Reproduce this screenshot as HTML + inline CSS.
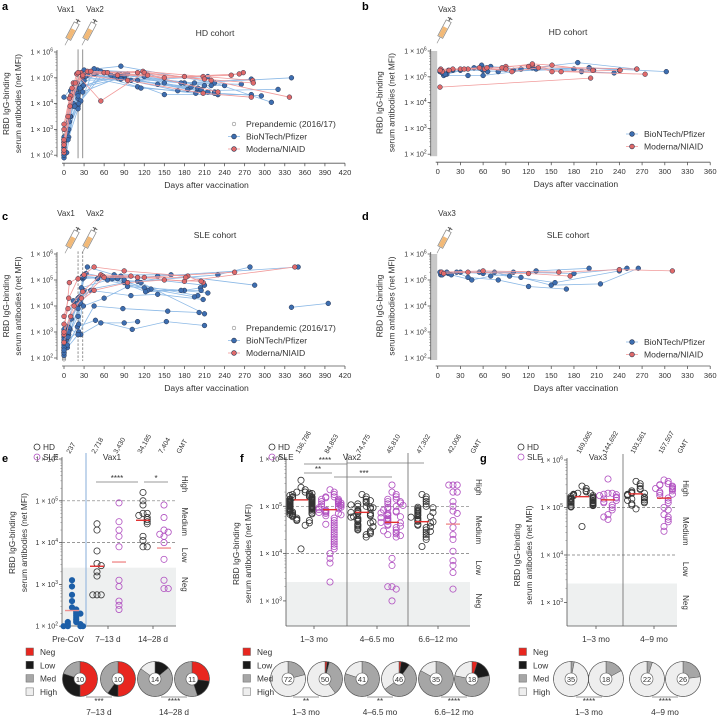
<!DOCTYPE html>
<html><head><meta charset="utf-8">
<style>
html,body{margin:0;padding:0;background:#fff;}
svg{display:block;font-family:"Liberation Sans",Arial,sans-serif;}
</style></head>
<body>
<svg id="fig" width="720" height="717" viewBox="0 0 720 717" xmlns="http://www.w3.org/2000/svg"></svg>
<script>
// ---------- DATA ----------
const aBNT=[
[[0,2.2],[21,4.2],[28,5.2],[85,5.1],[195,4.8],[340,5.0]],
[[0,2.5],[7,3.3],[22,4.6],[49,5.2],[110,4.9],[215,5.05]],
[[0,2.0],[5,2.9],[21,3.9],[30,5.3],[85,5.45],[225,4.8],[310,4.05]],
[[0,4.25],[28,5.15],[90,5.0],[200,4.5],[320,4.55]],
[[0,2.7],[14,3.9],[28,5.0],[50,5.3],[120,5.2],[230,4.35]],
[[0,2.6],[10,3.5],[25,4.1],[60,5.2],[150,4.35],[280,4.35]],
[[0,2.1],[7,2.7],[21,4.4],[35,5.1],[80,5.0],[170,4.5],[295,4.3]],
[[0,2.3],[12,4.4],[30,5.1],[75,5.05],[220,4.7],[240,4.7]],
[[0,2.4],[20,4.8],[45,5.15],[110,4.65],[197,4.4]],
[[0,1.9],[8,3.3],[19,4.4],[27,4.65],[90,5.0],[185,4.55]],
[[0,2.0],[6,2.6],[21,3.8],[45,5.35],[120,5.05],[210,4.7],[225,4.45]],
[[0,2.2],[14,4.0],[28,4.45],[90,5.1],[180,4.8],[265,4.75]],
[[0,2.1],[7,3.0],[22,4.0],[55,5.25],[85,5.0],[175,4.8],[280,4.95]],
[[0,2.5],[15,4.5],[28,5.0],[100,4.9],[200,4.6]],
[[0,2.3],[21,4.3],[29,4.7],[95,5.15],[150,4.8],[230,4.35]],
[[0,2.6],[10,4.5],[30,4.9],[85,4.95],[190,4.65],[215,4.45]],
[[0,2.4],[9,3.5],[24,4.6],[70,5.1],[140,4.75],[205,4.55]],
[[4,2.1],[16,3.9],[32,5.05],[115,4.6],[225,4.4]]];
const aMOD=[
[[0,2.5],[10,4.3],[28,5.05],[60,5.2],[118,5.25],[208,5.05],[282,4.9]],
[[0,3.2],[8,4.2],[19,5.15],[55,4.1],[120,5.2],[210,4.95],[283,4.8]],
[[0,2.1],[6,3.5],[25,5.2],[65,5.2],[150,5.0],[250,5.1],[268,5.2]],
[[0,2.4],[14,4.8],[35,5.25],[110,5.2],[220,4.9],[337,4.25]],
[[0,2.6],[9,3.9],[21,5.2],[80,5.1],[180,5.05],[262,5.15]],
[[0,3.0],[12,4.6],[28,5.1],[95,4.9],[208,4.4],[280,4.25]],
[[0,2.2],[17,4.8],[40,5.25],[125,5.1],[230,4.45]]];
const prepandemic=[1.95,2.0,2.05,2.1,2.15,2.2,2.3,2.4,2.5,2.6,2.75,2.9,3.0];
const bBNT=[
[[5,5.25],[8,5.05],[40,5.05],[60,5.05],[130,5.3],[200,5.35],[302,5.2]],
[[3,5.2],[12,5.1],[58,5.45],[70,5.4],[110,5.3],[185,5.55],[263,5.3]],
[[6,5.15],[14,5.25],[48,5.35],[66,5.2],[125,5.35],[190,5.2],[233,5.15]],
[[10,5.1],[30,5.25],[60,5.25],[80,5.2],[180,5.3],[206,5.25]],
[[4,5.2],[20,5.25],[58,5.3],[100,5.25],[200,5.35],[240,5.25]]];
const bMOD=[
[[3,4.6],[202,4.95]],
[[5,5.25],[30,5.3],[62,5.3],[90,5.4],[125,5.45],[163,5.2],[274,5.1]],
[[4,5.3],[40,5.3],[65,5.35],[85,5.35],[125,5.5],[151,5.45],[205,5.25]],
[[6,5.2],[20,5.3],[55,5.35],[98,5.2],[133,5.35],[151,5.2],[241,5.25]],
[[3,5.25],[15,5.25],[35,5.3],[90,5.3],[120,5.4],[263,5.3]]];
const cBNT=[
[[0,2.8],[5,3.1],[20,4.0],[28,5.05],[85,5.15],[210,4.8]],
[[0,2.4],[7,2.9],[21,3.6],[28,5.1],[110,4.95],[230,5.2],[278,5.5]],
[[0,2.2],[4,2.7],[22,3.0],[30,4.6],[90,4.9],[200,4.4]],
[[0,3.0],[6,3.2],[20,4.1],[35,5.5],[75,5.2],[160,5.2],[285,4.8]],
[[0,2.6],[9,3.1],[25,2.9],[55,3.35],[90,3.35],[110,3.4]],
[[0,2.3],[5,2.4],[21,2.9],[45,4.0],[88,3.9],[155,3.8],[202,3.75]],
[[0,2.9],[8,3.15],[23,4.35],[40,4.6],[100,4.4],[140,4.45],[208,4.25]],
[[0,2.5],[6,2.8],[25,4.1],[50,5.05],[120,4.7],[180,4.6],[204,4.7]],
[[0,2.1],[5,2.5],[20,3.2],[47,3.45],[102,3.1],[153,3.4],[210,3.25]],
[[0,2.7],[14,4.2],[29,4.0],[60,4.3],[95,4.75],[130,4.65],[195,4.35]],
[[0,3.1],[11,3.5],[26,4.7],[65,5.0],[115,4.9],[210,3.7]],
[[0,2.4],[21,3.9],[30,5.1],[80,5.05],[140,5.15],[350,5.5]],
[[340,3.95],[395,4.1]],
[[0,2.2],[22,3.3],[28,5.15],[90,5.0],[125,4.6],[205,4.6]],
[[0,2.3],[7,3.0],[21,4.3],[33,5.25],[72,5.05],[122,4.55],[175,4.6],[215,4.5]]];
const cMOD=[
[[0,3.6],[7,4.3],[21,5.05],[45,5.5],[90,5.35],[185,5.15],[208,4.9]],
[[0,3.3],[6,3.9],[28,4.55],[55,5.2],[100,5.15],[180,4.95],[345,5.5]],
[[0,2.9],[8,4.9],[30,5.2],[58,5.15],[120,5.1],[255,5.3]],
[[0,3.0],[15,4.0],[45,4.6],[95,4.9],[150,5.0],[205,4.95]],
[[0,2.6],[10,3.6],[26,4.3],[60,5.1],[110,5.1],[182,5.1]]];
const dBNT=[
[[5,5.3],[14,5.25],[55,5.3],[100,5.3],[180,5.25],[250,5.45]],
[[4,5.2],[25,5.3],[40,5.1],[80,5.0],[120,4.75],[170,4.65]],
[[8,5.25],[30,5.3],[60,5.25],[110,5.1],[150,4.8],[215,4.85],[265,5.45]],
[[6,5.2],[18,5.2],[45,5.0],[70,5.15],[130,5.35],[200,5.45]],
[[3,5.3],[12,5.3],[75,5.3],[95,5.15],[155,4.9],[240,5.35]]];
const dMOD=[
[[5,5.3],[60,5.35],[160,5.3],[240,5.4],[310,5.35]],
[[8,5.25],[40,5.3],[120,5.25],[175,5.15]]];

// dot plots (log10 values)
const ePre=[3.1,2.95,2.75,2.6,2.45,2.4,2.35,2.3,2.25,2.2,2.15,2.1,2.1,2.05,2.05,2.0,2.0,2.0,2.0,2.3];
const eHD1=[4.45,4.3,3.8,3.5,3.45,3.2,3.3,2.75,2.75,2.75];
const eSLE1=[4.95,4.5,4.3,4.15,3.9,3.1,2.95,2.5,2.6,2.4];
const eHD2=[5.2,5.0,4.9,4.7,4.7,4.65,4.6,4.55,4.5,4.45,4.15,4.05,3.9,3.9];
const eSLE2=[4.9,4.6,4.3,4.25,4.15,4.0,3.6,3.1,2.9,2.9,4.2];
const eGMT=[237,2718,3430,34185,7404];
const eGMTlabels=["237","2,718","3,430","34,185","7,404"];
const fHD1=[5.55,5.4,5.35,5.3,5.3,5.28,5.25,5.25,5.22,5.2,5.2,5.2,5.18,5.18,5.15,5.15,5.15,5.13,5.12,5.12,5.1,5.1,5.1,5.08,5.08,5.06,5.05,5.05,5.04,5.03,5.02,5.02,5.0,5.0,5.0,4.98,4.98,4.96,4.95,4.95,4.93,4.92,4.9,4.9,4.88,4.86,4.85,4.84,4.82,4.8,4.78,4.75,4.72,4.7,4.7,5.27,5.23,5.17,5.14,5.11,5.09,5.07,5.01,4.99,4.97,4.94,4.91,4.87,4.83,4.65,4.6,4.1];
const fSLE1=[5.35,5.3,5.25,5.2,5.2,5.18,5.15,5.15,5.12,5.1,5.1,5.08,5.05,5.05,5.03,5.0,5.0,4.98,4.95,4.92,4.9,4.88,4.85,4.85,4.8,4.75,4.7,4.65,4.6,4.55,4.5,4.45,4.4,4.35,4.3,4.25,4.2,4.15,4.1,4.0,3.9,3.8,3.4,5.07,5.02,4.97,4.93,4.87,4.82,4.62];
const fHD2=[5.25,5.2,5.15,5.1,5.08,5.05,5.0,5.0,4.98,4.95,4.92,4.9,4.88,4.85,4.85,4.82,4.8,4.78,4.75,4.72,4.7,4.68,4.65,4.62,4.6,4.58,4.55,4.52,4.5,4.48,4.45,4.4,4.35,5.12,5.03,4.97,4.87,4.77,4.67,4.57,4.42];
const fSLE2=[5.45,5.3,5.25,5.2,5.15,5.15,5.1,5.1,5.05,5.0,4.98,4.95,4.9,4.88,4.85,4.82,4.8,4.78,4.75,4.72,4.7,4.68,4.65,4.62,4.6,4.55,4.5,4.45,4.42,4.4,4.35,3.9,3.75,3.3,3.25,3.3,3.0,5.07,5.02,4.92,4.86,4.76,4.66,4.58,4.48,4.38];
const fHD3=[5.25,5.2,5.15,5.1,5.05,5.0,4.98,4.95,4.92,4.9,4.88,4.85,4.82,4.8,4.78,4.75,4.72,4.7,4.68,4.65,4.62,4.6,4.55,4.5,4.45,4.4,4.35,4.3,4.15,4.97,4.87,4.77,4.67,4.57,4.47];
const fSLE3=[5.45,5.45,5.45,5.3,5.3,5.1,5.0,4.9,4.85,4.7,4.55,4.4,4.3,4.05,3.85,3.75,3.6,3.25];
const fGMT=[136786,84853,74475,45810,47302,42006];
const fGMTlabels=["136,786","84,853","74,475","45,810","47,302","42,006"];
const gHD1=[5.45,5.4,5.35,5.33,5.3,5.3,5.28,5.27,5.25,5.25,5.23,5.22,5.2,5.2,5.19,5.18,5.17,5.16,5.15,5.14,5.13,5.12,5.11,5.1,5.1,5.09,5.08,5.07,5.06,5.05,5.04,5.03,5.02,5.01,4.6];
const gSLE1=[5.6,5.3,5.3,5.28,5.27,5.25,5.22,5.2,5.18,5.15,5.12,5.1,5.05,5.0,4.95,4.85,4.75,4.8];
const gHD2=[5.55,5.5,5.45,5.4,5.38,5.35,5.32,5.3,5.3,5.28,5.27,5.25,5.22,5.2,5.18,5.16,5.15,5.12,5.1,5.08,5.05,4.97];
const gSLE2=[5.58,5.55,5.5,5.48,5.47,5.45,5.43,5.4,5.4,5.38,5.35,5.33,5.3,5.28,5.25,5.2,5.15,5.1,5.0,4.95,4.85,4.8,4.75,4.7,4.6,4.5];
const gGMT=[169065,144692,193561,157507];
const gGMTlabels=["169,065","144,692","193,561","157,507"];

// pies: fractions [neg, low, med, high]
const ePies=[[0.5,0.3,0.2,0],[0.5,0.1,0.4,0],[0,0.14,0.71,0.15],[0.27,0.18,0.55,0]];
const eN=[10,10,14,11];
const fPies=[[0,0,0.21,0.79],[0.02,0.02,0.36,0.6],[0,0,0.8,0.2],[0.02,0.08,0.55,0.35],[0,0,0.83,0.17],[0.05,0.17,0.56,0.22]];
const fN=[72,50,41,46,35,18];
const gPies=[[0,0,0.03,0.97],[0,0,0.17,0.83],[0,0,0.05,0.95],[0,0,0.23,0.77]];
const gN=[35,18,22,26];

// ---------- HELPERS ----------
const NS='http://www.w3.org/2000/svg';
const svg=document.getElementById('fig');
function mk(tag,attrs,parent){const e=document.createElementNS(NS,tag);for(const k in attrs)e.setAttribute(k,attrs[k]);(parent||svg).appendChild(e);return e;}
function txt(s,attrs,parent){const t=mk('text',attrs,parent);t.textContent=s;return t;}
function grp(name){const g=mk('g',{});return g;}
function tickLabel(g,x,y,exp){
  const t=mk('text',{x:x,y:y+2.5,'font-size':7,'text-anchor':'end',fill:'#333'},g);
  
  
  t.appendChild(document.createTextNode('1 × 10'));
  const s=mk('tspan',{dy:-3,'font-size':5},t);s.textContent=exp;
}
function logAxis(g,xAxis,ytop,ybot,yOf,minExp,maxExp){
  const ax=mk('line',{x1:xAxis,x2:xAxis,y1:ytop,y2:ybot,stroke:'#555','stroke-width':0.8},g);
  
  for(let e=minExp;e<=maxExp;e++){
    const y=yOf(e);
    mk('line',{x1:xAxis-3,x2:xAxis,y1:y,y2:y,stroke:'#555','stroke-width':0.8},g);
    tickLabel(g,xAxis-4,y,e);
    if(e<maxExp)for(let m=2;m<10;m++){const ym=yOf(e+Math.log10(m));mk('line',{x1:xAxis-1.6,x2:xAxis,y1:ym,y2:ym,stroke:'#777','stroke-width':0.5},g);}
  }
}
function yTitle(g,x,y,lines){
  lines.forEach((s,i)=>{const t=txt(s,{x:0,y:0,'font-size':8.3,'text-anchor':'middle',fill:'#333',transform:`translate(${x+i*12},${y}) rotate(-90)`},g);
  });
}
function syringe(x,y,label,lx,ly){
  const g=grp('syringe-'+label.toLowerCase());
  const l=txt(label,{x:lx,y:ly,'font-size':8,'text-anchor':'middle',fill:'#333'},g);
  
  const s=mk('g',{transform:`translate(${x},${y}) rotate(28)`},g);
  mk('line',{x1:0,y1:-14,x2:0,y2:-10,stroke:'#555','stroke-width':1},s);
  mk('line',{x1:-2.5,y1:-13,x2:2.5,y2:-13,stroke:'#555','stroke-width':1},s);
  mk('rect',{x:-2.8,y:-10,width:5.6,height:18,fill:'#fff',stroke:'#888','stroke-width':0.7},s);
  mk('rect',{x:-2.3,y:-3,width:4.6,height:10.5,fill:'#f2b977'},s);
  mk('line',{x1:0,y1:8,x2:0,y2:15,stroke:'#888','stroke-width':0.6},s);
}
const BLUE='#3d6eb0',BLUEL='#8cb9e6',RED='#e06a6a',REDL='#f19a9a';
function series(g,data,xOf,yOf,fill,lc,name){
  data.forEach(subj=>{
    const pts=subj.map(p=>xOf(p[0]).toFixed(1)+','+yOf(p[1]).toFixed(1)).join(' ');
    const pl=mk('polyline',{points:pts,fill:'none',stroke:lc,'stroke-width':0.8},g);
    
  });
  data.forEach(subj=>subj.forEach(p=>{
    const c=mk('circle',{cx:xOf(p[0]),cy:yOf(p[1]),r:2.4,fill:fill,stroke:'#2a3550','stroke-width':0.5},g);
    
  }));
}
function legendLine(g,x,y,items){
  items.forEach((it,i)=>{
    const yy=y+i*12.5;
    if(it.line)mk('line',{x1:x-6,x2:x+6,y1:yy,y2:yy,stroke:it.line,'stroke-width':0.8},g);
    const c=mk('circle',{cx:x,cy:yy,r:it.r||2.4,fill:it.fill,stroke:it.stroke,'stroke-width':0.6},g);
    
    const t=txt(it.label,{x:x+12,y:yy+3,'font-size':8.6,fill:'#333'},g);
    
  });
}
function panelLetter(s,x,y){const t=txt(s,{x:x,y:y,'font-size':11,'font-weight':'bold',fill:'#000'});}

function linePanel(o){
  const g=grp(o.name);
  const xOf=d=>o.x0+d*o.ppd, yOf=l=>o.y6+(6-l)*o.dec;
  const yb=yOf(2);
  if(o.band){const b=mk('rect',{x:o.x0-7,y:yOf(6),width:6.5,height:yb-yOf(6)+2,fill:'#c8c8c8'},g);}
  logAxis(g,o.x0-7,yOf(6)-2,yb+2,yOf,2,6);
  const xa=mk('line',{x1:o.x0-2,x2:xOf(o.maxDay),y1:yb+8,y2:yb+8,stroke:'#555','stroke-width':0.8},g);
  
  for(let d=0;d<=o.maxDay;d+=30){
    mk('line',{x1:xOf(d),x2:xOf(d),y1:yb+8,y2:yb+11,stroke:'#555','stroke-width':0.8},g);
    const t=txt(String(d),{x:xOf(d),y:yb+20,'font-size':7.6,'text-anchor':'middle',fill:'#333'},g);
    
  }
  const xt=txt('Days after vaccination',{x:xOf(o.maxDay/2)+2,y:yb+33,'font-size':8.6,'text-anchor':'middle',fill:'#333'},g);
  
  yTitle(g,o.x0-55,yOf(4),['RBD IgG-binding','serum antibodies (net MFI)']);
  (o.vlines||[]).forEach(d=>{const l=mk('line',{x1:xOf(d),x2:xOf(d),y1:yOf(6.1),y2:yb+3,stroke:'#777','stroke-width':0.8,'stroke-dasharray':o.dash?'2.5,1.5':'none'},g);});
  const ti=txt(o.title,{x:o.titleX,y:o.y6-16,'font-size':8.6,'text-anchor':'middle',fill:'#333'},g);
  
  if(o.pre)o.pre.forEach(v=>{const c=mk('circle',{cx:xOf(0),cy:yOf(v),r:1.8,fill:'#fff',stroke:'#888','stroke-width':0.6},g);});
  series(g,o.bnt,xOf,yOf,BLUE,BLUEL,'biontech');
  series(g,o.mod,xOf,yOf,RED,REDL,'moderna');
  legendLine(g,o.legX,o.legY,o.legend);
}
const legAC=[{label:'Prepandemic (2016/17)',fill:'#fff',stroke:'#888',r:1.8},{label:'BioNTech/Pfizer',fill:BLUE,stroke:'#2a3550',line:BLUEL},{label:'Moderna/NIAID',fill:RED,stroke:'#2a3550',line:REDL}];
const legBD=[{label:'BioNTech/Pfizer',fill:BLUE,stroke:'#2a3550',line:BLUEL},{label:'Moderna/NIAID',fill:RED,stroke:'#2a3550',line:REDL}];

panelLetter('a',2,10);panelLetter('b',362,10);panelLetter('c',2,220);panelLetter('d',362,220);
panelLetter('e',2,462);panelLetter('f',240,462);panelLetter('g',480,462);
linePanel({name:'panel-a',x0:64,ppd:0.669,maxDay:420,y6:52,dec:25.8,vlines:[21,28],dash:false,title:'HD cohort',titleX:215,pre:prepandemic,bnt:aBNT,mod:aMOD,legX:234,legY:124,legend:legAC});
linePanel({name:'panel-b',x0:437.7,ppd:0.757,maxDay:360,y6:51,dec:25.8,band:true,title:'HD cohort',titleX:568,bnt:bBNT,mod:bMOD,legX:632,legY:134,legend:legBD});
linePanel({name:'panel-c',x0:64,ppd:0.669,maxDay:420,y6:254,dec:26,vlines:[21,28],dash:true,title:'SLE cohort',titleX:215,pre:prepandemic,bnt:cBNT,mod:cMOD,legX:234,legY:328,legend:legAC});
linePanel({name:'panel-d',x0:437.7,ppd:0.757,maxDay:360,y6:254,dec:26,band:true,title:'SLE cohort',titleX:568,bnt:dBNT,mod:dMOD,legX:632,legY:342,legend:legBD});
syringe(72,32,'Vax1',66,12);syringe(89,32,'Vax2',95,12);
syringe(444,30,'Vax3',447,12);
syringe(72,240,'Vax1',66,216);syringe(89,240,'Vax2',95,216);
syringe(444,240,'Vax3',447,216);

// ---------- DOT PANELS ----------
function dotPanel(o){
  const g=grp(o.name);
  const yOf=l=>o.y6+(6-l)*o.dec;
  const grayTop=yOf(3.4);
  const band=mk('rect',{x:o.xl,y:grayTop,width:o.xr-o.xl,height:626-grayTop,fill:'#eef0f0'},g);
  
  logAxis(g,o.xl,yOf(6)-2,626,yOf,o.minExp,6);
  mk('line',{x1:o.xl,x2:o.xr,y1:626,y2:626,stroke:'#555','stroke-width':0.8},g);
  [5,4].forEach(e=>{const l=mk('line',{x1:o.xl,x2:o.xr,y1:yOf(e),y2:yOf(e),stroke:'#777','stroke-width':0.7,'stroke-dasharray':'3,2'},g);});
  (o.seps||[]).forEach(s=>{const l=mk('line',{x1:s.x,x2:s.x,y1:yOf(6)-6,y2:626,stroke:s.c||'#666','stroke-width':s.w||0.8},g);});
  yTitle(g,o.xl-47,yOf(4),['RBD IgG-binding','serum antibodies (net MFI)']);
  o.cats.forEach(c=>{const t=txt(c.s,{x:c.x,y:642,'font-size':8.3,'text-anchor':'middle',fill:'#333'},g);
    mk('line',{x1:c.x,x2:c.x,y1:626,y2:629,stroke:'#555','stroke-width':0.8},g);});
  [['High',yOf(5.4)],['Medium',yOf(4.5)],['Low',yOf(3.7)],['Neg',yOf(3.0)]].forEach(z=>{
    const t=txt(z[0],{x:0,y:0,'font-size':8,'text-anchor':'middle',fill:'#333',transform:`translate(${o.xr+6},${z[1]}) rotate(90)`},g);
    });
  o.groups.forEach((gr,gi)=>{
    const vals=gr.v;
    vals.forEach((v,i)=>{
      let k=0;for(let j=0;j<i;j++)if(Math.abs(vals[j]-v)<0.07)k++;
      let off=(k%2?1:-1)*Math.ceil(k/2)*4.2;off=Math.max(-11,Math.min(11,off));
      const c=mk('circle',{cx:gr.x+off,cy:yOf(v),r:gr.filled?2.7:3.1,fill:gr.filled?'#1d5fa8':'none',stroke:gr.filled?'#1d5fa8':gr.col,'stroke-width':0.8},g);
      
    });
    const gm=Math.log10(o.gmt[gi]);
    const m=mk('line',{x1:gr.x-7,x2:gr.x+7,y1:yOf(gm),y2:yOf(gm),stroke:gr.light?'#f09090':'#e03030','stroke-width':1.4},g);
    
    const t=txt(o.gmtLabels[gi],{x:0,y:0,'font-size':6.8,fill:'#333',transform:`translate(${gr.x-2},${454}) rotate(-60)`},g);
    
  });
  const gt=txt('GMT',{x:0,y:0,'font-size':6.8,fill:'#333',transform:`translate(${o.xr+4},454) rotate(-60)`},g);
  
  (o.sig||[]).forEach(s=>{
    const l=mk('line',{x1:s.x1,x2:s.x2,y1:s.y,y2:s.y,stroke:'#777','stroke-width':0.8},g);
    
    if(s.s){const t=txt(s.s,{x:s.sx||(s.x1+s.x2)/2,y:s.y-1,'font-size':8,'text-anchor':'middle',fill:'#333'},g);}
  });
  if(o.hdleg){[['HD','#333',o.hdleg.y],['SLE','#b04fc0',o.hdleg.y+10]].forEach(it=>{
    mk('circle',{cx:o.hdleg.x,cy:it[2]-3,r:3,fill:'none',stroke:it[1],'stroke-width':0.8},g);
    const t=txt(it[0],{x:o.hdleg.x+6,y:it[2],'font-size':8.3,fill:'#333'},g);});
    const v=txt(o.vax,{x:o.vaxX,y:o.hdleg.y+10,'font-size':8.3,'text-anchor':'middle',fill:'#333'},g);}
  const cols=['#e8261f','#1a1a1a','#a6a6a6','#eeeeee'];
  const lg=grp(o.name+'-pie-legend');
  ['Neg','Low','Med','High'].forEach((s,i)=>{
    mk('rect',{x:o.pieLegX,y:648+i*13.3,width:7.5,height:7.5,fill:cols[i],stroke:'#666','stroke-width':0.5},lg);
    const t=txt(s,{x:o.pieLegX+14,y:655+i*13.3,'font-size':8.3,fill:'#333'},lg);});
  o.pies.forEach((fr,pi)=>{
    const cx=o.pieX[pi],cy=679,R=17.5,r0=6;
    let a=0;
    fr.forEach((f,ci)=>{
      if(f<=0)return;
      const a2=a+f*2*Math.PI;
      const p=document.createElementNS(NS,'path');
      if(f>=0.999){p.setAttribute('d',`M${cx},${cy-R}A${R},${R} 0 1 1 ${cx-0.01},${cy-R}Z`);}
      else{const x1=cx+R*Math.sin(a),y1=cy-R*Math.cos(a),x2=cx+R*Math.sin(a2),y2=cy-R*Math.cos(a2);
      p.setAttribute('d',`M${cx},${cy}L${x1},${y1}A${R},${R} 0 ${a2-a>Math.PI?1:0} 1 ${x2},${y2}Z`);}
      p.setAttribute('fill',cols[ci]);p.setAttribute('stroke','#555');p.setAttribute('stroke-width','0.5');
      
      
      g.appendChild(p);a=a2;
    });
    mk('circle',{cx:cx,cy:cy,r:R,fill:'none',stroke:'#555','stroke-width':0.6},g);
    mk('circle',{cx:cx,cy:cy,r:r0,fill:'#fff',stroke:'#555','stroke-width':0.6},g);
    const t=txt(String(o.pieN[pi]),{x:cx,y:cy+2.8,'font-size':7.5,'text-anchor':'middle',fill:'#333'},g);
  });
  o.pieGroups.forEach(pg=>{
    mk('line',{x1:pg.x-13,x2:pg.x+13,y1:697,y2:697,stroke:'#777','stroke-width':0.7},g);
    const s=txt(pg.s,{x:pg.x,y:704,'font-size':8,'text-anchor':'middle',fill:'#333'},g);
    const t=txt(pg.l,{x:pg.x,y:715,'font-size':8.3,'text-anchor':'middle',fill:'#333'},g);
  });
}
const PUR='#b04fc0';
dotPanel({name:'panel-e',xl:62,xr:176,y6:459,dec:41.8,minExp:2,gmt:eGMT,gmtLabels:eGMTlabels,
  seps:[{x:86,c:'#9bbbe0',w:1.2}],
  cats:[{s:'Pre-CoV',x:68},{s:'7–13 d',x:108},{s:'14–28 d',x:153}],
  groups:[{v:ePre,x:72,filled:true,name:'pre-cov',light:true},{v:eHD1,x:97,col:'#333',name:'hd-7-13d'},{v:eSLE1,x:119,col:PUR,name:'sle-7-13d',light:true},{v:eHD2,x:143,col:'#333',name:'hd-14-28d'},{v:eSLE2,x:164,col:PUR,name:'sle-14-28d',light:true}],
  sig:[{x1:96,x2:138,y:482,s:'****'},{x1:144,x2:168,y:482,s:'*'}],
  hdleg:{x:37,y:450},vax:'Vax1',vaxX:112,
  pieLegX:26,pies:ePies,pieN:eN,pieX:[80,118,155,192],pieGroups:[{x:99,s:'***',l:'7–13 d'},{x:174,s:'****',l:'14–28 d'}]});
dotPanel({name:'panel-f',xl:286,xr:470,y6:459,dec:47.3,minExp:3,gmt:fGMT,gmtLabels:fGMTlabels,
  seps:[{x:347},{x:408}],
  cats:[{s:'1–3 mo',x:314},{s:'4–6.5 mo',x:377},{s:'6.6–12 mo',x:438}],
  groups:[{v:fHD1,x:301,col:'#333',name:'hd-1-3mo'},{v:fSLE1,x:330,col:PUR,name:'sle-1-3mo'},{v:fHD2,x:362,col:'#333',name:'hd-4-6mo'},{v:fSLE2,x:392,col:PUR,name:'sle-4-6mo'},{v:fHD3,x:422,col:'#333',name:'hd-6-12mo'},{v:fSLE3,x:453,col:PUR,name:'sle-6-12mo',light:true}],
  sig:[{x1:304,x2:347,y:464,s:'****',sx:325},{x1:347,x2:424,y:463,s:''},{x1:304,x2:332,y:473,s:'**',sx:318},{x1:334,x2:392,y:477,s:'***',sx:364}],
  hdleg:{x:272,y:450},vax:'Vax2',vaxX:352,
  pieLegX:243,pies:fPies,pieN:fN,pieX:[288,325,362,399,436,472],pieGroups:[{x:306,s:'**',l:'1–3 mo'},{x:380,s:'**',l:'4–6.5 mo'},{x:454,s:'****',l:'6.6–12 mo'}]});
dotPanel({name:'panel-g',xl:567,xr:677,y6:460,dec:47.5,minExp:3,gmt:gGMT,gmtLabels:gGMTlabels,
  seps:[{x:623}],
  cats:[{s:'1–3 mo',x:596},{s:'4–9 mo',x:654}],
  groups:[{v:gHD1,x:582,col:'#333',name:'hd-1-3mo'},{v:gSLE1,x:608,col:PUR,name:'sle-1-3mo'},{v:gHD2,x:636,col:'#333',name:'hd-4-9mo'},{v:gSLE2,x:664,col:PUR,name:'sle-4-9mo'}],
  sig:[],
  hdleg:{x:521,y:450},vax:'Vax3',vaxX:598,
  pieLegX:519,pies:gPies,pieN:gN,pieX:[571,606,647,683],pieGroups:[{x:589,s:'****',l:'1–3 mo'},{x:665,s:'****',l:'4–9 mo'}]});
</script>
</body></html>
